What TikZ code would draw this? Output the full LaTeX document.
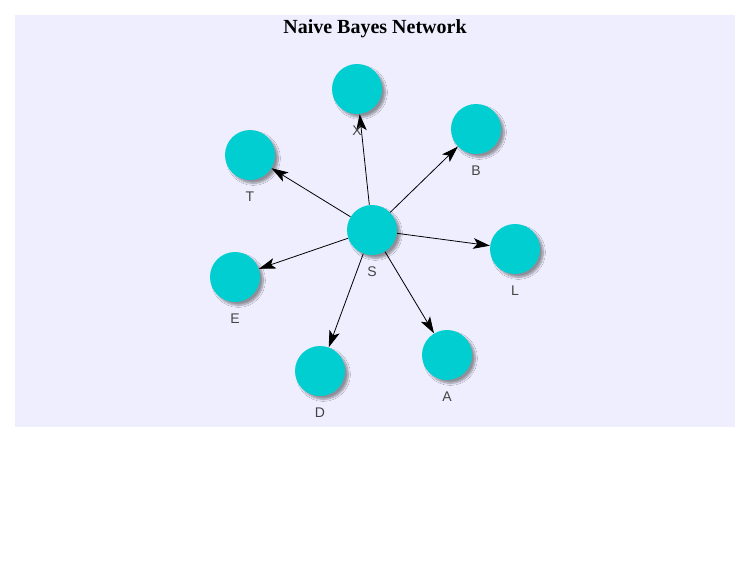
\documentclass[tikz,border=0pt]{standalone}
\usepackage{fontspec}
\setmainfont{Liberation Serif}
\setsansfont{Liberation Sans}
\usetikzlibrary{arrows.meta,shadows.blur}
\definecolor{panelbg}{HTML}{EEEEFF}
\definecolor{nodecyan}{HTML}{00CED1}
\definecolor{labelgray}{HTML}{444444}
\tikzset{
    varnode/.style={circle, fill=nodecyan, minimum size=37.5pt, inner sep=0pt,
        blur shadow={shadow xshift=2.5pt, shadow yshift=-2.5pt, shadow blur radius=1.5pt, shadow blur steps=8, shadow opacity=40}},
    varlabel/.style={font=\sffamily\fontsize{10.5}{12}\selectfont, text=labelgray},
    edge/.style={-{Stealth[length=12.5pt,width=8pt,inset=3pt]}, line width=0.6pt}
}
\begin{document}
\begin{tikzpicture}[x=0.75pt,y=-0.75pt]
        \useasboundingbox (0,0) rectangle (748,569);
        \fill[panelbg] (15,15) rectangle (735,427);

        \node[font=\bfseries\fontsize{15}{18}\selectfont] (title) at (375,29){Naive Bayes Network};

        \node[varnode] (s) at (372,230){};
        \node[varnode] (x) at (357,89){};
        \node[varnode] (b) at (476,129){};
        \node[varnode] (t) at (250,155){};
        \node[varnode] (l) at (515,249){};
        \node[varnode] (e) at (235,277){};
        \node[varnode] (a) at (447,355){};
        \node[varnode] (d) at (320,371){};

        \draw[edge] (s) to (x);
        \draw[edge] (s) to (b);
        \draw[edge] (s) to (t);
        \draw[edge] (s) to (l);
        \draw[edge] (s) to (e);
        \draw[edge] (s) to (a);
        \draw[edge] (s) to (d);

        \node[varlabel] (slab) at (372,272){S};
        \node[varlabel] (xlab) at (357,131){X};
        \node[varlabel] (blab) at (476,171){B};
        \node[varlabel] (tlab) at (250,197){T};
        \node[varlabel] (llab) at (515,291){L};
        \node[varlabel] (elab) at (235,319){E};
        \node[varlabel] (alab) at (447,397){A};
        \node[varlabel] (dlab) at (320,413){D};

    \end{tikzpicture}
\end{document}
